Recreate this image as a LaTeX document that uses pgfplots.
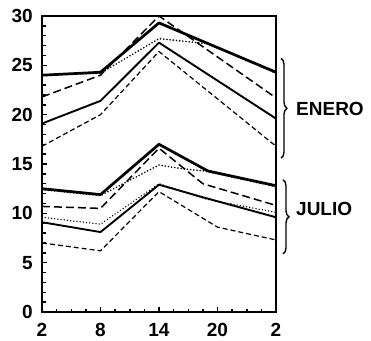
\documentclass[border=0pt]{standalone}
\usepackage{fontspec}
\setmainfont{Liberation Sans}
\usepackage{pgfplots}
\pgfplotsset{compat=1.18}
\usetikzlibrary{decorations.pathreplacing}
\begin{document}
\begin{tikzpicture}
\begin{axis}[
 scale only axis, width=234pt, height=296pt,
 xmin=0, xmax=24, ymin=0, ymax=30,
 xtick={0,6,12,18,24}, xticklabels={2,8,14,20,2},
 ytick={0,5,...,30},
 minor x tick num=3, minor y tick num=4,
 xtick pos=bottom, ytick pos=left,
 major tick length=5pt, minor tick length=3.5pt,
 every tick/.append style={black, line width=1.5pt},
 axis line style={line width=1.6pt},
 tick label style={font=\fontsize{19}{19}\selectfont\bfseries, inner sep=0pt},
 /pgf/number format/assume math mode=true,
 yticklabel style={xshift=-9pt},
 xticklabel style={yshift=-11pt},
 clip=false,
 every axis plot/.append style={line join=round, black},
]
% ENERO
\addplot[line width=2.7pt] coordinates {(0,24.0) (6,24.3) (12,29.3) (24,24.3)};
\addplot[line width=1.8pt, line cap=round, dash pattern=on 0pt off 3.2pt] coordinates {(0,24.0) (6,24.2) (12,27.7) (15,27.4) (17,27.2) (24,24.2)};
\addplot[line width=1.5pt, dash pattern=on 8pt off 4pt] coordinates {(0,21.8) (6,24.0) (12,30.0) (24,21.7)};
\addplot[line width=1.9pt] coordinates {(0,19.1) (6,21.4) (12,27.3) (24,19.6)};
\addplot[line width=1.2pt, dash pattern=on 5pt off 3pt] coordinates {(0,16.8) (6,20.0) (12,26.4) (24,16.8)};
% JULIO
\addplot[line width=2.7pt] coordinates {(0,12.5) (6,11.9) (12,17.0) (17,14.3) (24,12.8)};
\addplot[line width=1.8pt, line cap=round, dash pattern=on 0pt off 3.2pt] coordinates {(0,12.4) (6,11.8) (12,14.9) (14.5,14.5) (16.6,14.3) (24,12.7)};
\addplot[line width=1.5pt, dash pattern=on 8pt off 4pt] coordinates {(0,10.7) (6,10.5) (12,16.6) (16.5,13.0) (24,10.8)};
\addplot[line width=1.5pt, line cap=round, dash pattern=on 0pt off 3.2pt] coordinates {(0,9.6) (6,8.9) (12,13.0) (17,11.4) (24,10.1)};
\addplot[line width=1.9pt] coordinates {(0,9.1) (6,8.1) (12,12.9) (16.6,11.6) (24,9.6)};
\addplot[line width=1.2pt, dash pattern=on 5pt off 3pt] coordinates {(0,7.0) (6,6.2) (12,12.2) (18,8.6) (24,7.3)};
% braces and labels
\draw[line width=1.4pt, decorate, decoration={brace, amplitude=6pt}] ([xshift=5pt]axis cs:24,25.7) -- ([xshift=5pt]axis cs:24,15.6);
\node[anchor=west, font=\fontsize{19}{19}\selectfont\bfseries, inner sep=0pt] at ([xshift=20pt]axis cs:24,20.6) {ENERO};
\draw[line width=1.4pt, decorate, decoration={brace, amplitude=6pt}] ([xshift=7pt]axis cs:24,13.4) -- ([xshift=7pt]axis cs:24,5.9);
\node[anchor=west, font=\fontsize{19}{19}\selectfont\bfseries, inner sep=0pt] at ([xshift=20pt]axis cs:24,10.4) {JULIO};
\coordinate (bl) at (rel axis cs:0,0);
\coordinate (tr) at (rel axis cs:1,1);
\end{axis}
\pgfresetboundingbox
\path ([xshift=-42pt,yshift=-28pt]bl) rectangle ([xshift=95pt,yshift=16pt]tr);
\end{tikzpicture}
\end{document}
